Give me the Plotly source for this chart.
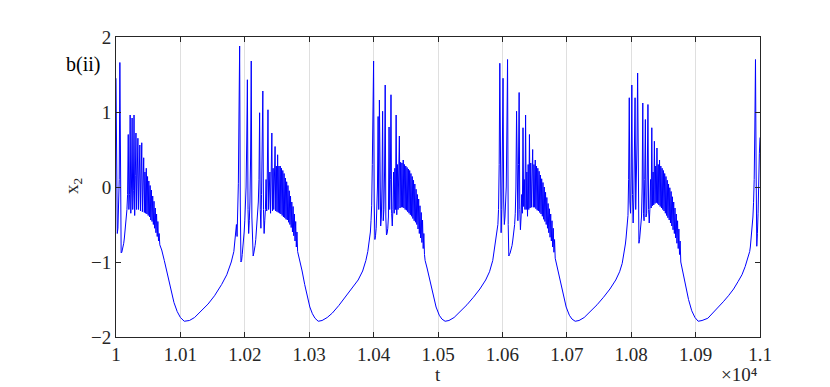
import plotly.graph_objects as go

# x tick positions and labels (axis shown in units of 10^4)
tick_t = [10000, 10100, 10200, 10300, 10400, 10500, 10600, 10700, 10800, 10900, 11000]
tick_text = ["1", "1.01", "1.02", "1.03", "1.04", "1.05", "1.06", "1.07", "1.08", "1.09", "1.1"]
y_ticks = [-2, -1, 0, 1, 2]

# bursting stretches, sampled every 1 time unit from their start
burst0_start = 10000
burst0_y = [
    1.45, -0.60, -0.62, -0.55, -0.30, 0.10, 1.66, -0.40, -0.88, -0.87,
    -0.84, -0.80, -0.75, -0.68, -0.60, -0.52, -0.42, -0.30, -0.10, 0.70,
    -0.30, -0.10, 0.96, -0.35, 0.00, 0.92, -0.30, -0.05, 0.96, -0.38,
    0.15, 0.72, -0.30, 0.22, 0.65, -0.30, 0.25, 0.56, -0.32, 0.25,
    0.59, -0.33, 0.22, 0.39, -0.34, 0.20, -0.35, 0.25, -0.36, 0.14,
    -0.38, 0.08, -0.40, 0.02, -0.44, -0.04, -0.46, -0.12, -0.50, -0.19,
    -0.55, -0.28, -0.61, -0.36, -0.66, -0.46, -0.72, -0.62, -0.77,
]
burst1_start = 10183
burst1_y = [
    -0.86, -0.78, -0.68, -0.60, -0.50, -0.66, -0.40, 0.05, 1.00, 1.88,
    -0.20, -1.00, -0.98, -0.90, -0.82, -0.72, -0.60, -0.45, -0.25, 0.00,
    0.60, 1.43, -0.30, -0.62, -0.45, -0.20, 0.40, 1.68, -0.40, -0.92,
    -0.92, -0.88, -0.84, -0.78, -0.70, -0.60, -0.48, -0.35, -0.20, 0.10,
    0.99, -0.30, -0.55, -0.10, 0.60, 1.28, -0.30, -0.62, -0.45, -0.30,
    0.10, -0.32, 0.20, 1.03, -0.30, -0.10, 0.20, -0.35, 0.30, 0.72,
    -0.32, 0.25, -0.30, 0.30, 0.54, -0.32, 0.28, -0.33, 0.43, -0.34,
    0.28, -0.35, 0.28, -0.36, 0.25, -0.38, 0.22, -0.40, 0.18, -0.41,
    0.12, -0.43, 0.07, -0.44, 0.02, -0.47, -0.05, -0.50, -0.12, -0.54,
    -0.20, -0.60, -0.26, -0.65, -0.36, -0.72, -0.46, -0.80, -0.60, -0.86,
]
burst2_start = 10391
burst2_y = [
    -0.86, -0.80, -0.74, -0.67, -0.60, -0.45, -0.25, 0.30, 1.00, 1.68,
    -0.20, -0.70, -0.65, -0.55, -0.35, 0.00, 0.94, -0.30, 1.16, -0.40,
    -0.52, -0.40, 0.00, 1.01, -0.45, -0.30, 0.20, 1.36, -0.40, -0.64,
    -0.62, -0.55, -0.40, 0.80, -0.30, 0.10, 1.23, -0.35, -0.52, -0.30,
    0.20, -0.35, 0.25, -0.30, 0.96, -0.37, 0.30, -0.30, 0.35, 0.68,
    -0.28, 0.33, -0.27, 0.32, -0.27, 0.36, -0.28, 0.30, -0.30, 0.28,
    -0.31, 0.26, -0.33, 0.24, -0.35, 0.22, -0.37, 0.18, -0.39, 0.14,
    -0.42, 0.09, -0.45, 0.04, -0.47, -0.03, -0.50, -0.10, -0.56, -0.16,
    -0.62, -0.25, -0.68, -0.34, -0.74, -0.44, -0.82, -0.62, -0.90, -0.98,
]
burst3_start = 10590
burst3_y = [
    -0.70, -0.64, -0.58, -0.50, -0.30, 0.30, 1.65, -0.10, -0.61, -0.30,
    0.40, 1.45, -0.20, -0.50, -0.40, -0.25, 0.00, 0.80, 1.70, -0.50,
    -0.92, -0.90, -0.88, -0.85, -0.82, -0.78, -0.72, -0.66, -0.58, -0.50,
    -0.35, 0.00, 1.01, -0.30, -0.45, 0.30, 1.26, -0.30, -0.57, -0.40,
    -0.10, -0.35, 0.79, -0.26, 0.10, -0.30, 0.96, -0.30, 0.20, -0.39,
    0.30, -0.30, 0.70, -0.28, 0.32, -0.27, 0.30, 0.50, -0.27, 0.30,
    -0.27, 0.36, -0.29, 0.28, -0.31, 0.25, -0.32, 0.21, -0.34, 0.16,
    -0.36, 0.11, -0.39, 0.06, -0.43, 0.00, -0.46, -0.07, -0.50, -0.14,
    -0.55, -0.22, -0.61, -0.29, -0.67, -0.36, -0.72, -0.45, -0.80, -0.55,
    -0.87, -0.70, -0.95,
]
burst4_start = 10791
burst4_y = [
    -0.76, -0.68, -0.60, -0.50, -0.38, 0.10, 1.19, -0.20, -0.35, 0.20,
    1.36, -0.10, -0.48, -0.20, 0.30, 1.19, -0.30, 0.00, 0.60, 1.52,
    -0.40, -0.75, -0.70, -0.61, -0.52, -0.40, 0.00, 1.12, -0.35, -0.45,
    0.10, 0.90, -0.40, -0.35, 0.20, 1.10, -0.30, -0.48, -0.30, 0.10,
    -0.28, 0.79, -0.25, 0.20, -0.24, 0.61, -0.22, 0.28, -0.21, 0.52,
    -0.22, 0.30, -0.24, 0.36, -0.26, 0.28, -0.28, 0.25, -0.30, 0.22,
    -0.32, 0.18, -0.35, 0.14, -0.38, 0.09, -0.41, 0.04, -0.44, -0.01,
    -0.48, -0.06, -0.52, -0.13, -0.57, -0.20, -0.62, -0.28, -0.68, -0.36,
    -0.75, -0.45, -0.82, -0.56, -0.90, -0.72, -1.00,
]
burst5_start = 10985
burst5_y = [
    -0.80, -0.72, -0.62, -0.52, -0.40, -0.21, 0.10, 0.80, 1.70, 0.20,
    -0.79, -0.62, -0.35, 0.20, 0.45, 0.66,
]

# slow stretches between bursts: (t, x2) key points
slow0_t = [10071, 10075, 10080, 10085, 10090, 10095, 10100, 10106, 10114, 10122,
           10132, 10143, 10153, 10164, 10172, 10179]
slow0_y = [-0.84, -0.98, -1.18, -1.38, -1.54, -1.66, -1.74, -1.79, -1.78, -1.74,
           -1.66, -1.56, -1.45, -1.30, -1.17, -1.00]
slow1_t = [10285, 10289, 10293, 10297, 10301, 10305, 10309, 10314, 10320, 10328,
           10336, 10346, 10356, 10366, 10376, 10383, 10388]
slow1_y = [-0.96, -1.12, -1.30, -1.46, -1.60, -1.69, -1.75, -1.79, -1.78, -1.74,
           -1.68, -1.58, -1.47, -1.36, -1.24, -1.12, -0.98]
slow2_t = [10483, 10487, 10492, 10497, 10502, 10506, 10511, 10517, 10525, 10535,
           10545, 10555, 10565, 10574, 10580, 10585, 10588]
slow2_y = [-1.08, -1.24, -1.43, -1.60, -1.71, -1.76, -1.79, -1.78, -1.74, -1.66,
           -1.57, -1.47, -1.36, -1.24, -1.13, -0.98, -0.82]
slow3_t = [10685, 10689, 10694, 10699, 10704, 10708, 10713, 10719, 10727, 10737,
           10747, 10757, 10767, 10776, 10782, 10786, 10789]
slow3_y = [-1.07, -1.23, -1.43, -1.60, -1.71, -1.76, -1.79, -1.78, -1.74, -1.66,
           -1.57, -1.47, -1.36, -1.24, -1.13, -1.02, -0.88]
slow4_t = [10880, 10884, 10889, 10894, 10899, 10904, 10910, 10919, 10927, 10935,
           10943, 10951, 10959, 10966, 10972, 10977, 10981, 10984]
slow4_y = [-1.12, -1.30, -1.50, -1.65, -1.74, -1.79, -1.78, -1.75, -1.68, -1.60,
           -1.53, -1.45, -1.36, -1.26, -1.17, -1.06, -0.96, -0.86]

bursts = [(burst0_start, burst0_y), (burst1_start, burst1_y), (burst2_start, burst2_y),
          (burst3_start, burst3_y), (burst4_start, burst4_y), (burst5_start, burst5_y)]
slows = [(slow0_t, slow0_y), (slow1_t, slow1_y), (slow2_t, slow2_y),
         (slow3_t, slow3_y), (slow4_t, slow4_y)]

t, x2 = [], []
for i, (start, vals) in enumerate(bursts):
    t += [start + k for k in range(len(vals))]
    x2 += vals
    if i < len(slows):
        t += slows[i][0]
        x2 += slows[i][1]

fig = go.Figure()
fig.add_trace(go.Scatter(x=t, y=x2, mode="lines",
                         line=dict(color="rgb(0,0,255)", width=1),
                         showlegend=False, hoverinfo="skip"))

axis_col = "#262626"
font = dict(family="Liberation Serif, Times New Roman, serif", size=19, color=axis_col)

fig.update_layout(
    width=830, height=387,
    margin=dict(l=108, r=78, t=29, b=58),
    paper_bgcolor="white", plot_bgcolor="white",
    font=font,
    xaxis=dict(range=[10000, 11000], tickvals=tick_t, ticktext=tick_text,
               ticks="inside", ticklen=5, tickcolor=axis_col, tickwidth=1,
               showline=True, linecolor=axis_col, linewidth=1, mirror="ticks",
               showgrid=True, gridcolor="#dfdfdf", gridwidth=1, zeroline=False,
               tickfont=font),
    yaxis=dict(range=[-2, 2], tickvals=y_ticks,
               ticks="inside", ticklen=5, tickcolor=axis_col, tickwidth=1,
               showline=True, linecolor=axis_col, linewidth=1, mirror="ticks",
               showgrid=False, zeroline=False, tickfont=font),
    annotations=[
        dict(text="t", xref="paper", yref="paper", x=0.5, y=-0.125,
             showarrow=False, xanchor="center", yanchor="middle", font=font),
        dict(text="×10⁴", xref="paper", yref="paper", x=1.0, y=-0.165,
             showarrow=False, xanchor="right", yanchor="bottom", font=font),
        dict(text="x<sub>2</sub>", xref="paper", yref="paper", x=-0.067, y=0.503,
             showarrow=False, textangle=-90, xanchor="center", yanchor="middle", font=font),
        dict(text="b(ii)", xref="paper", yref="paper", x=-0.051, y=0.907,
             showarrow=False, xanchor="center", yanchor="middle",
             font=dict(family=font["family"], size=20, color="black")),
    ],
)

fig.write_html("out.html")
